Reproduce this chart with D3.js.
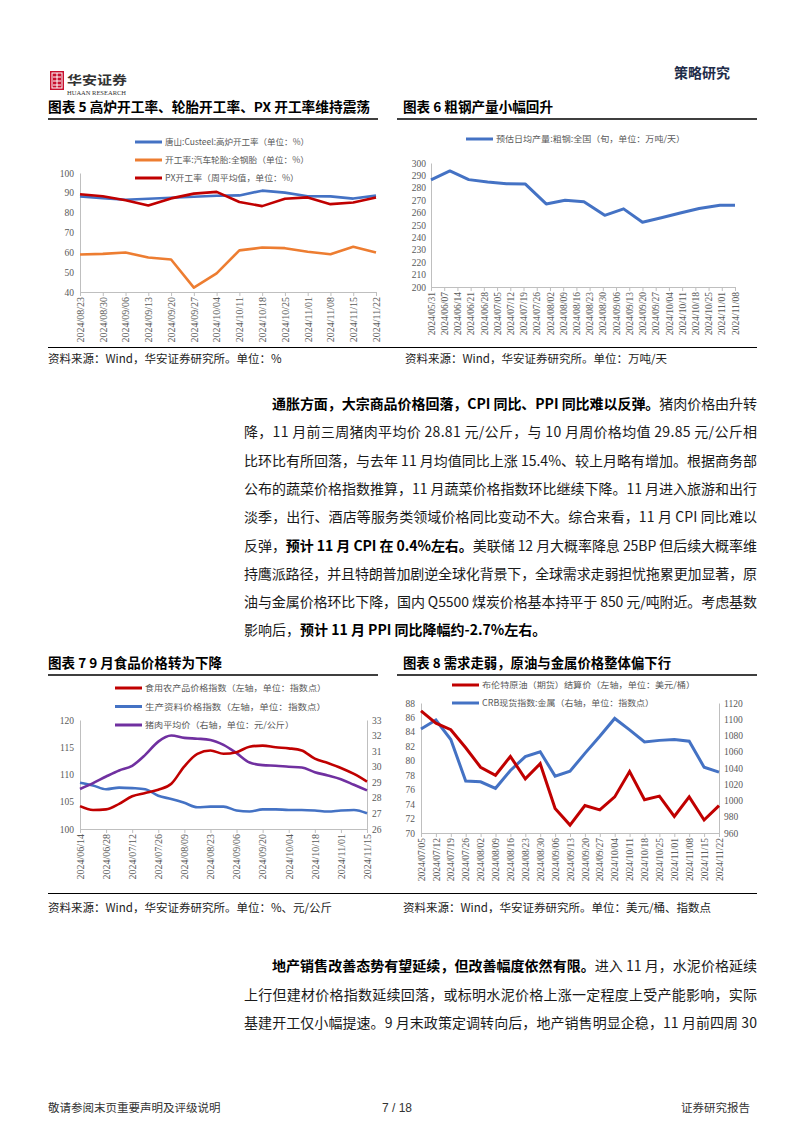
<!DOCTYPE html>
<html><head><meta charset="utf-8">
<script src="https://cdn.jsdelivr.net/npm/d3@7"></script>
<style>
body{margin:0;background:#fff;}
svg{display:block;}
</style></head><body>
<svg id="page" width="802" height="1133"></svg>
<script>
const CJK = '"Noto Sans CJK SC", sans-serif';
const SERIF = '"Liberation Serif", "Times New Roman", serif';
const SANS = '"Liberation Sans", Arial, sans-serif';

// ---------- Chart 5 data ----------
const dates5 = ["2024/08/23","2024/08/30","2024/09/06","2024/09/13","2024/09/20","2024/09/27","2024/10/04","2024/10/11","2024/10/18","2024/10/25","2024/11/01","2024/11/08","2024/11/15","2024/11/22"];
const blastFurnace = [88.2,87.3,86.5,87.0,87.5,88.0,88.5,88.7,91.1,90.1,88.3,88.2,87.1,88.6];
const tireRate = [58.9,59.2,59.9,57.4,56.4,42.2,49.4,61.0,62.4,62.1,60.3,59.0,62.8,59.9];
const pxRate = [89.3,88.3,86.3,83.6,87.2,89.6,90.5,85.4,83.3,87.0,87.7,84.3,85.1,87.7];
const legend5 = ["唐山:Custeel:高炉开工率（单位：%）","开工率:汽车轮胎:全钢胎（单位：%）","PX开工率（周平均值，单位：%）"];

// ---------- Chart 6 data ----------
const ticks6 = ["2024/05/31","2024/06/07","2024/06/14","2024/06/21","2024/06/28","2024/07/05","2024/07/12","2024/07/19","2024/07/26","2024/08/02","2024/08/09","2024/08/16","2024/08/23","2024/08/30","2024/09/06","2024/09/13","2024/09/20","2024/09/27","2024/10/04","2024/10/11","2024/10/18","2024/10/25","2024/11/01","2024/11/08"];
const dates6 = ["2024/05/31","2024/06/10","2024/06/20","2024/06/30","2024/07/10","2024/07/20","2024/07/31","2024/08/10","2024/08/20","2024/08/31","2024/09/10","2024/09/20","2024/09/30","2024/10/10","2024/10/20","2024/10/31","2024/11/08"];
const steelOutput = [286.4,293.6,286.6,284.7,283.3,283.0,267.0,270.0,268.8,257.8,263.0,252.2,255.8,259.7,263.3,266.0,266.0];
const legend6 = ["预估日均产量:粗钢:全国（旬，单位：万吨/天）"];

// ---------- Chart 7 data ----------
const dates7 = ["2024/06/14","2024/06/21","2024/06/28","2024/07/05","2024/07/12","2024/07/19","2024/07/26","2024/08/02","2024/08/09","2024/08/16","2024/08/23","2024/08/30","2024/09/06","2024/09/13","2024/09/20","2024/09/27","2024/10/04","2024/10/11","2024/10/18","2024/10/25","2024/11/01","2024/11/08","2024/11/15"];
const foodIndex = [104.2,103.5,103.6,104.6,106.0,106.6,107.2,108.3,111.5,113.8,114.4,113.8,114.1,115.1,115.3,115.0,114.8,114.4,112.9,112.1,111.2,110.1,108.7];
const producerIndex = [108.5,108.0,107.3,107.6,107.5,107.3,106.1,105.5,104.8,104.0,104.1,104.1,103.4,103.2,103.6,103.6,103.5,103.5,103.4,103.2,103.4,103.5,102.9];
const porkPrice = [28.57,28.95,29.37,29.76,30.06,30.76,31.61,32.0,31.85,31.8,31.72,31.4,30.87,30.27,30.1,30.06,30.0,29.95,29.65,29.44,29.2,28.84,28.48];
const legend7 = ["食用农产品价格指数（左轴，单位：指数点）","生产资料价格指数（左轴，单位：指数点）","猪肉平均价（右轴，单位：元/公斤）"];

// ---------- Chart 8 data ----------
const dates8 = ["2024/07/05","2024/07/12","2024/07/19","2024/07/26","2024/08/02","2024/08/09","2024/08/16","2024/08/23","2024/08/30","2024/09/06","2024/09/13","2024/09/20","2024/09/27","2024/10/04","2024/10/11","2024/10/18","2024/10/25","2024/11/01","2024/11/08","2024/11/15","2024/11/22"];
const brent = [86.9,85.2,84.3,81.8,79.1,78.0,80.6,77.5,79.6,73.4,71.1,73.8,73.2,75.0,78.5,74.6,75.1,72.3,75.0,71.8,73.8];
const crbMetal = [1088,1099,1075,1024,1023,1015,1037,1054,1060,1030,1036,1058,1079,1101,1087,1072,1074,1075,1073,1041,1035];
const legend8 = ["布伦特原油（期货）结算价（左轴，单位：美元/桶）","CRB现货指数:金属（右轴，单位：指数点）"];

// ---------- Text ----------
const para1 = [
  [["b","通胀方面，大宗商品价格回落，CPI 同比、PPI 同比难以反弹。"],["n","猪肉价格由升转"]],
  [["n","降，11 月前三周猪肉平均价 28.81 元/公斤，与 10 月周价格均值 29.85 元/公斤相"]],
  [["n","比环比有所回落，与去年 11 月均值同比上涨 15.4%、较上月略有增加。根据商务部"]],
  [["n","公布的蔬菜价格指数推算，11 月蔬菜价格指数环比继续下降。11 月进入旅游和出行"]],
  [["n","淡季，出行、酒店等服务类领域价格同比变动不大。综合来看，11 月 CPI 同比难以"]],
  [["n","反弹，"],["b","预计 11 月 CPI 在 0.4%左右。"],["n","美联储 12 月大概率降息 25BP 但后续大概率维"]],
  [["n","持鹰派路径，并且特朗普加剧逆全球化背景下，全球需求走弱担忧拖累更加显著，原"]],
  [["n","油与金属价格环比下降，国内 Q5500 煤炭价格基本持平于 850 元/吨附近。考虑基数"]],
  [["n","影响后，"],["b","预计 11 月 PPI 同比降幅约-2.7%左右。"]]
];
const para2 = [
  [["b","地产销售改善态势有望延续，但改善幅度依然有限。"],["n","进入 11 月，水泥价格延续"]],
  [["n","上行但建材价格指数延续回落，或标明水泥价格上涨一定程度上受产能影响，实际"]],
  [["n","基建开工仅小幅提速。9 月末政策定调转向后，地产销售明显企稳，11 月前四周 30"]]
];

const svg = d3.select('#page');
svg.append('rect').attr('width',802).attr('height',1133).attr('fill','#fff');
const defs = svg.append('defs');
const hg = defs.append('linearGradient').attr('id','hdrGrad');
hg.append('stop').attr('offset','0%').attr('stop-color','#8d9db5');
hg.append('stop').attr('offset','100%').attr('stop-color','#9fb0c6');
const fg = defs.append('linearGradient').attr('id','ftrGrad');
fg.append('stop').attr('offset','0%').attr('stop-color','#1d3557');
fg.append('stop').attr('offset','50%').attr('stop-color','#a8c3df');
fg.append('stop').attr('offset','100%').attr('stop-color','#1d3557');

// ---------- Header ----------
const hdr = svg.append('g');
hdr.append('rect').attr('x',50).attr('y',71).attr('width',14).attr('height',19).attr('fill','#c8102e');
hdr.append('rect').attr('x',52).attr('y',73).attr('width',10).attr('height',15).attr('fill','none').attr('stroke','#fff').attr('stroke-width',1);
hdr.append('path').attr('d','M57,73V88M53,77H61M53,81H61M53,85H61').attr('stroke','#fff').attr('stroke-width',1);
hdr.append('text').attr('x',67).attr('y',85).attr('font-family',CJK).attr('font-size',12.5).attr('font-weight',700).attr('fill','#333').attr('textLength',60).attr('lengthAdjust','spacingAndGlyphs').text('华安证券');
hdr.append('text').attr('x',67).attr('y',95).attr('font-family',SERIF).attr('font-size',6).attr('fill','#333').attr('textLength',59).attr('lengthAdjust','spacingAndGlyphs').text('HUAAN RESEARCH');
hdr.append('line').attr('x1',133).attr('x2',752).attr('y1',80).attr('y2',80).attr('stroke','url(#hdrGrad)').attr('stroke-width',2);
hdr.append('text').attr('x',730).attr('y',78).attr('text-anchor','end').attr('font-family',CJK).attr('font-size',14).attr('font-weight',700).attr('fill','#1f2d4a').text('策略研究');

// ---------- helpers ----------
function title(x, y, txt, len, lineX1, lineX2){
  svg.append('text').attr('x',x).attr('y',y).attr('font-family',CJK).attr('font-size',13.5).attr('font-weight',700).attr('fill','#000')
    .attr('textLength',len).attr('lengthAdjust','spacingAndGlyphs').text(txt);
  svg.append('line').attr('x1',lineX1).attr('x2',lineX2).attr('y1',y+7).attr('y2',y+7).attr('stroke','#3f3f3f').attr('stroke-width',2);
}
function styleAxis(g, fontSize){
  g.select('.domain').attr('stroke','#bfbfbf');
  g.selectAll('.tick line').attr('stroke','#bfbfbf');
  g.selectAll('text').attr('font-family',SERIF).attr('font-size',fontSize).attr('fill','#595959');
}
function rotateLabels(g){
  g.selectAll('text').attr('transform','rotate(-90)').attr('text-anchor','end')
    .attr('x',-5).attr('y',0).attr('dy','0.33em');
}
function legend(items, colors, x, y0, dy, lens){
  items.forEach((t,i)=>{
    const y = y0 + i*dy;
    svg.append('line').attr('x1',x).attr('x2',x+27).attr('y1',y).attr('y2',y).attr('stroke',colors[i]).attr('stroke-width',3);
    svg.append('text').attr('x',x+30).attr('y',y+3).attr('font-family',CJK).attr('font-size',8.5).attr('fill','#595959')
      .attr('textLength',lens[i]).attr('lengthAdjust','spacingAndGlyphs').text(t);
  });
}
const BLUE='#4472c4', ORANGE='#ed7d31', RED='#c00000', PURPLE='#7030a0';
const plain = d3.format('d');

// ---------- Chart 5 ----------
title(48,112,'图表 5 高炉开工率、轮胎开工率、PX 开工率维持震荡',322,48,378);
const x5 = d3.scalePoint().domain(dates5).range([80,376]);
const y5 = d3.scaleLinear().domain([40,100]).range([292,173]);
const ax5 = svg.append('g').attr('transform','translate(80,0)').call(d3.axisLeft(y5).tickValues(d3.range(40,101,10)).tickFormat(plain).tickSize(0).tickPadding(6));
styleAxis(ax5,9.5);
const bx5 = svg.append('g').attr('transform','translate(0,292)').call(d3.axisBottom(x5).tickSize(4).tickSizeOuter(0));
styleAxis(bx5,10); rotateLabels(bx5);
const line5 = arr => d3.line().x((d,i)=>x5(dates5[i])).y(d=>y5(d))(arr);
[[tireRate,ORANGE],[blastFurnace,BLUE],[pxRate,RED]].forEach(([a,c])=>{
  svg.append('path').attr('d',line5(a)).attr('fill','none').attr('stroke',c).attr('stroke-width',2.6).attr('stroke-linejoin','round');
});
legend(legend5,[BLUE,ORANGE,RED],135,142,18,[144,144,134]);

// ---------- Chart 6 ----------
title(403,112,'图表 6 粗钢产量小幅回升',150,397,757);
const parse = d3.timeParse('%Y/%m/%d');
const x6 = d3.scaleTime().domain([parse(ticks6[0]),parse(ticks6[ticks6.length-1])]).range([431,735]);
const y6 = d3.scaleLinear().domain([200,300]).range([287,163]);
const ax6 = svg.append('g').attr('transform','translate(431,0)').call(d3.axisLeft(y6).tickValues(d3.range(200,301,10)).tickFormat(plain).tickSize(0).tickPadding(5));
styleAxis(ax6,9.5);
const bx6 = svg.append('g').attr('transform','translate(0,287)').call(d3.axisBottom(x6).tickValues(ticks6.map(parse)).tickFormat(d3.timeFormat('%Y/%m/%d')).tickSize(4).tickSizeOuter(0));
styleAxis(bx6,9.5); rotateLabels(bx6);
svg.append('path').attr('d',d3.line().x((d,i)=>x6(parse(dates6[i]))).y(d=>y6(d))(steelOutput))
  .attr('fill','none').attr('stroke',BLUE).attr('stroke-width',3).attr('stroke-linejoin','round');
legend(legend6,[BLUE],466,139,0,[189]);

// ---------- Source row 1 ----------
svg.append('line').attr('x1',48).attr('x2',757).attr('y1',347.5).attr('y2',347.5).attr('stroke','#000').attr('stroke-width',1);
svg.append('text').attr('x',48).attr('y',363).attr('font-family',CJK).attr('font-size',11.5).attr('fill','#222').text('资料来源：Wind，华安证券研究所。单位：%');
svg.append('text').attr('x',405).attr('y',363).attr('font-family',CJK).attr('font-size',11.5).attr('fill','#222').text('资料来源：Wind，华安证券研究所。单位：万吨/天');

// ---------- Paragraph text ----------
function paragraph(lines, y0, dy){
  lines.forEach((segs,i)=>{
    const x = i===0 ? 272 : 244;
    const t = svg.append('text').attr('x',x).attr('y',y0+i*dy).attr('font-family',CJK).attr('font-size',14).attr('fill','#1a1a1a');
    segs.forEach(([k,s])=>{ t.append('tspan').attr('font-weight',k==='b'?700:400).attr('fill',k==='b'?'#000':'#1a1a1a').text(s); });
    if(i < lines.length-1 || lines.length===3) t.attr('textLength',757-x).attr('lengthAdjust','spacing');
  });
}
paragraph(para1,409,28.3);

// ---------- Chart 7 ----------
title(48,668,'图表 7 9 月食品价格转为下降',174,48,378);
const x7 = d3.scalePoint().domain(dates7).range([80,367]);
const y7L = d3.scaleLinear().domain([100,120]).range([829,720]);
const y7R = d3.scaleLinear().domain([26,33]).range([829,720]);
const ax7 = svg.append('g').attr('transform','translate(80,0)').call(d3.axisLeft(y7L).tickValues(d3.range(100,121,5)).tickFormat(plain).tickSize(0).tickPadding(6));
styleAxis(ax7,9.5);
const ar7 = svg.append('g').attr('transform','translate(367,0)').call(d3.axisRight(y7R).tickValues(d3.range(26,34,1)).tickFormat(plain).tickSize(0).tickPadding(5));
styleAxis(ar7,9.5);
const bx7 = svg.append('g').attr('transform','translate(0,829)').call(d3.axisBottom(x7).tickValues(dates7.filter((d,i)=>i%2===0)).tickSize(4).tickSizeOuter(0));
styleAxis(bx7,10); rotateLabels(bx7);
const line7 = (arr,ys) => d3.line().curve(d3.curveMonotoneX).x((d,i)=>x7(dates7[i])).y(d=>ys(d))(arr);
[[producerIndex,y7L,BLUE],[porkPrice,y7R,PURPLE],[foodIndex,y7L,RED]].forEach(([a,s,c])=>{
  svg.append('path').attr('d',line7(a,s)).attr('fill','none').attr('stroke',c).attr('stroke-width',2.6).attr('stroke-linejoin','round');
});
legend(legend7,[RED,BLUE,PURPLE],115,688,18.5,[181,181,149]);

// ---------- Chart 8 ----------
title(403,668,'图表 8 需求走弱，原油与金属价格整体偏下行',268,397,757);
const x8 = d3.scalePoint().domain(dates8).range([421,719]);
const y8L = d3.scaleLinear().domain([70,88]).range([833,703]);
const y8R = d3.scaleLinear().domain([960,1120]).range([833,703]);
const ax8 = svg.append('g').attr('transform','translate(421,0)').call(d3.axisLeft(y8L).tickValues(d3.range(70,89,2)).tickFormat(plain).tickSize(0).tickPadding(6));
styleAxis(ax8,9.5);
const ar8 = svg.append('g').attr('transform','translate(719,0)').call(d3.axisRight(y8R).tickValues(d3.range(960,1121,20)).tickFormat(plain).tickSize(0).tickPadding(5));
styleAxis(ar8,9.5);
const bx8 = svg.append('g').attr('transform','translate(0,833)').call(d3.axisBottom(x8).tickSize(4).tickSizeOuter(0));
styleAxis(bx8,9.5); rotateLabels(bx8);
const line8 = (arr,ys) => d3.line().x((d,i)=>x8(dates8[i])).y(d=>ys(d))(arr);
[[crbMetal,y8R,BLUE],[brent,y8L,RED]].forEach(([a,s,c])=>{
  svg.append('path').attr('d',line8(a,s)).attr('fill','none').attr('stroke',c).attr('stroke-width',3).attr('stroke-linejoin','miter');
});
legend(legend8,[RED,BLUE],452,685,18,[213,172]);

// ---------- Source row 2 ----------
svg.append('line').attr('x1',48).attr('x2',757).attr('y1',893.5).attr('y2',893.5).attr('stroke','#000').attr('stroke-width',1);
svg.append('text').attr('x',48).attr('y',912).attr('font-family',CJK).attr('font-size',11.5).attr('fill','#222').text('资料来源：Wind，华安证券研究所。单位：%、元/公斤');
svg.append('text').attr('x',403).attr('y',912).attr('font-family',CJK).attr('font-size',11.5).attr('fill','#222').text('资料来源：Wind，华安证券研究所。单位：美元/桶、指数点');

paragraph(para2,971,28.5);

// ---------- Footer ----------
svg.append('line').attr('x1',48).attr('x2',752).attr('y1',1093).attr('y2',1093).attr('stroke','url(#ftrGrad)').attr('stroke-width',3);
svg.append('text').attr('x',48).attr('y',1112).attr('font-family',CJK).attr('font-size',11.5).attr('fill','#333').text('敬请参阅末页重要声明及评级说明');
svg.append('text').attr('x',397).attr('y',1112).attr('text-anchor','middle').attr('font-family',SANS).attr('font-size',12).attr('fill','#333').text('7 / 18');
svg.append('text').attr('x',750).attr('y',1112).attr('text-anchor','end').attr('font-family',CJK).attr('font-size',11.5).attr('fill','#333').text('证券研究报告');
</script>
</body></html>
